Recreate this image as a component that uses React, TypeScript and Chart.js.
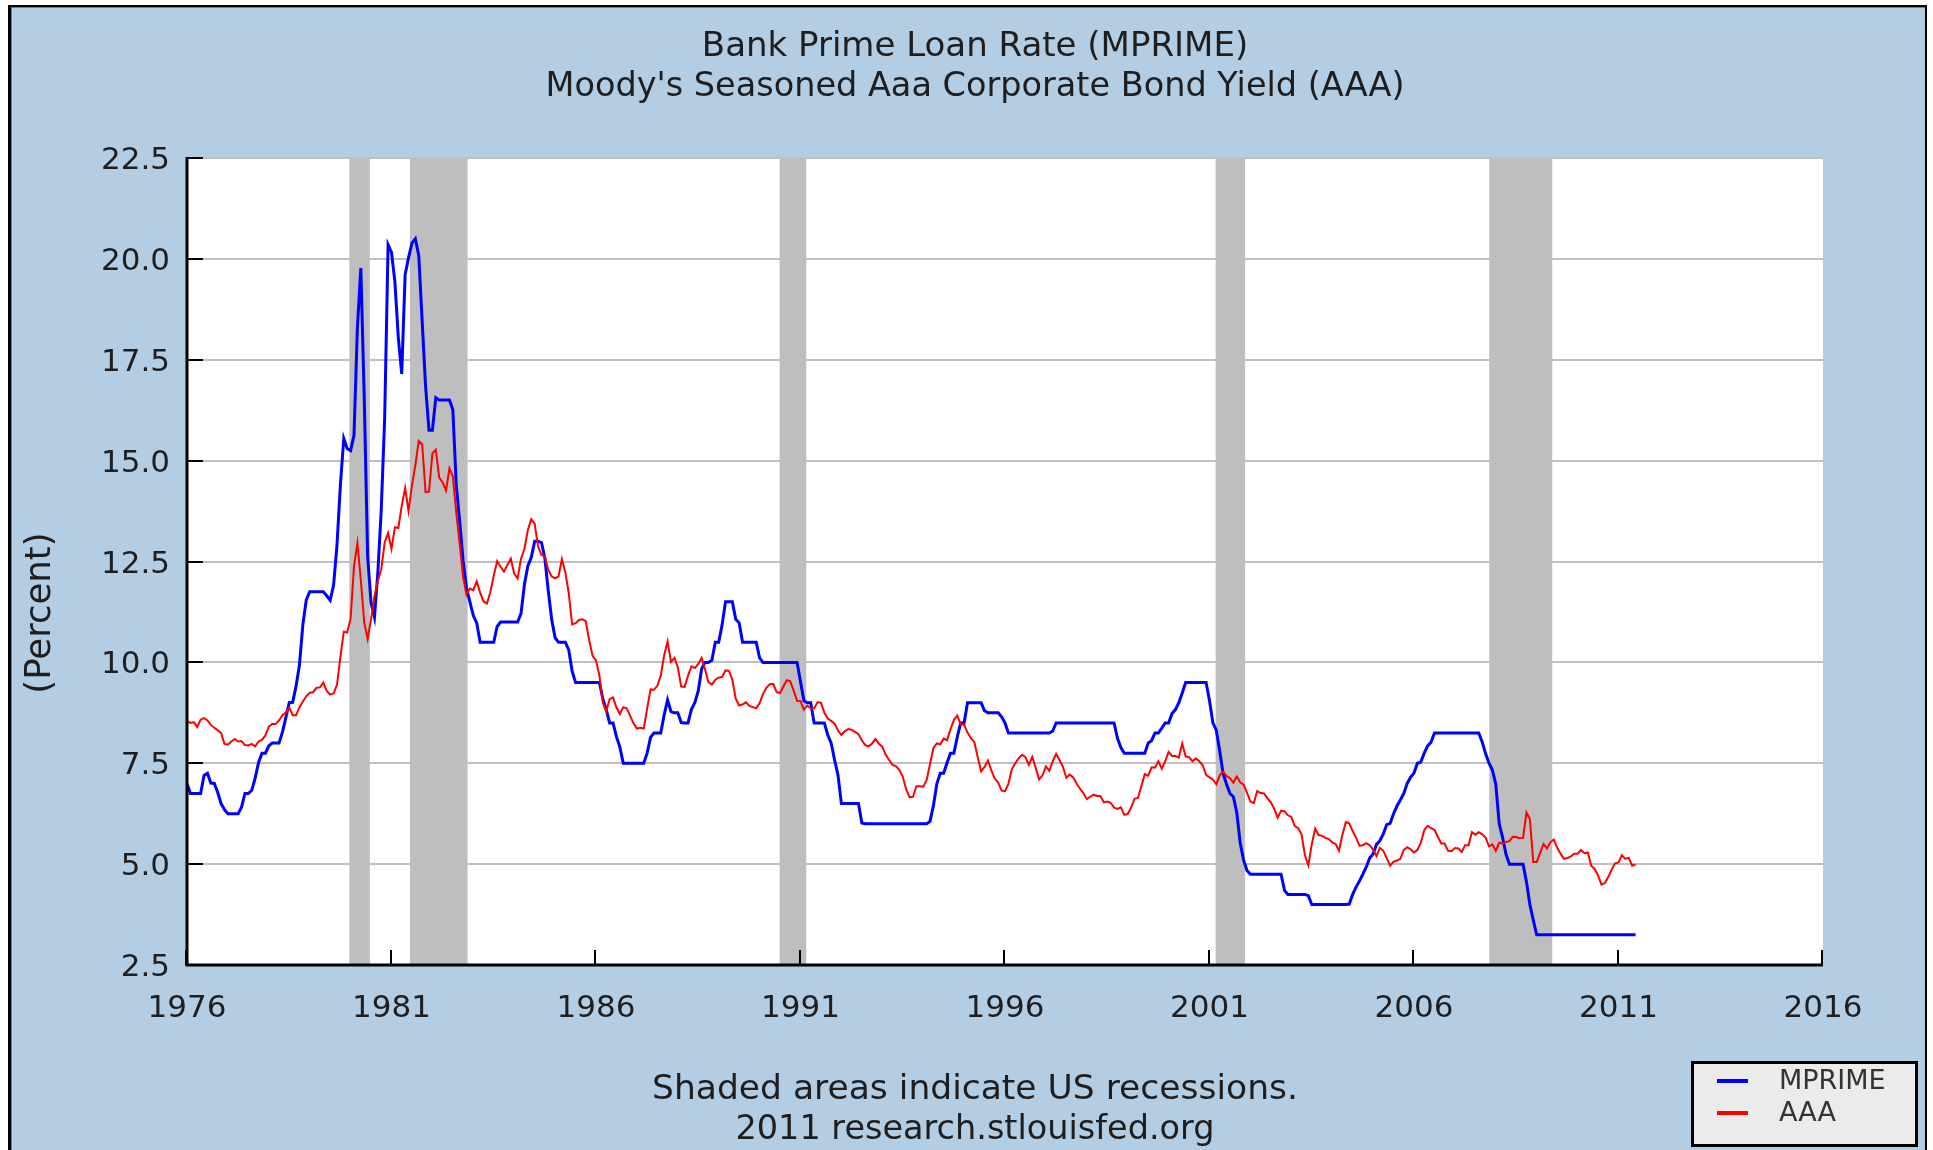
import React, { useEffect, useRef } from "react";
import { Chart, registerables } from "chart.js";

Chart.register(...registerables);

const TITLE_LINES = ["Bank Prime Loan Rate (MPRIME)", "Moody's Seasoned Aaa Corporate Bond Yield (AAA)"];
const FOOTER_LINES = ["Shaded areas indicate US recessions.", "2011 research.stlouisfed.org"];
const Y_LABEL = "(Percent)";
const SERIES_NAMES = ["MPRIME", "AAA"];
const SERIES_COLORS = ["#0000ff", "#ff0000"];
const START_YEAR = 1976;
const X_MIN = 1976;
const X_MAX = 2016;
const X_STEP = 5;
const Y_MIN = 2.5;
const Y_MAX = 22.5;
const Y_STEP = 2.5;

// recession periods (decimal years)
const RECESSIONS: [number, number][] = [
  [1979.97, 1980.47],
  [1981.45, 1982.86],
  [1990.49, 1991.14],
  [2001.15, 2001.87],
  [2007.84, 2009.38],
];

// Monthly Bank Prime Loan Rate, Jan 1976 - Jun 2011
const MPRIME: number[] = [
  7.00, 6.75, 6.75, 6.75, 6.75, 7.20, 7.25, 7.01, 7.00, 6.78, 6.50, 6.35,
  6.25, 6.25, 6.25, 6.25, 6.41, 6.75, 6.75, 6.83, 7.13, 7.52, 7.75, 7.75,
  7.93, 8.00, 8.00, 8.00, 8.27, 8.63, 9.00, 9.01, 9.41, 9.94, 10.94, 11.55,
  11.75, 11.75, 11.75, 11.75, 11.75, 11.65, 11.54, 11.91, 12.90, 14.39, 15.55, 15.30,
  15.25, 15.63, 18.31, 19.77, 16.57, 12.63, 11.48, 11.12, 12.23, 13.79, 16.06, 20.35,
  20.16, 19.43, 18.05, 17.15, 19.61, 20.03, 20.39, 20.50, 20.08, 18.45, 16.84, 15.75,
  15.75, 16.56, 16.50, 16.50, 16.50, 16.50, 16.26, 14.39, 13.50, 12.52, 11.85, 11.50,
  11.16, 10.98, 10.50, 10.50, 10.50, 10.50, 10.50, 10.89, 11.00, 11.00, 11.00, 11.00,
  11.00, 11.00, 11.21, 11.93, 12.39, 12.60, 13.00, 13.00, 12.97, 12.58, 11.77, 11.06,
  10.61, 10.50, 10.50, 10.50, 10.31, 9.78, 9.50, 9.50, 9.50, 9.50, 9.50, 9.50,
  9.50, 9.50, 9.10, 8.83, 8.50, 8.50, 8.16, 7.90, 7.50, 7.50, 7.50, 7.50,
  7.50, 7.50, 7.50, 7.75, 8.14, 8.25, 8.25, 8.25, 8.70, 9.07, 8.78, 8.75,
  8.75, 8.51, 8.50, 8.50, 8.84, 9.00, 9.29, 9.84, 10.00, 10.00, 10.05, 10.50,
  10.50, 10.93, 11.50, 11.50, 11.50, 11.07, 10.98, 10.50, 10.50, 10.50, 10.50, 10.50,
  10.11, 10.00, 10.00, 10.00, 10.00, 10.00, 10.00, 10.00, 10.00, 10.00, 10.00, 10.00,
  9.52, 9.05, 9.00, 9.00, 8.50, 8.50, 8.50, 8.50, 8.20, 8.00, 7.58, 7.21,
  6.50, 6.50, 6.50, 6.50, 6.50, 6.50, 6.02, 6.00, 6.00, 6.00, 6.00, 6.00,
  6.00, 6.00, 6.00, 6.00, 6.00, 6.00, 6.00, 6.00, 6.00, 6.00, 6.00, 6.00,
  6.00, 6.00, 6.06, 6.45, 6.99, 7.25, 7.25, 7.51, 7.75, 7.75, 8.15, 8.50,
  8.50, 9.00, 9.00, 9.00, 9.00, 9.00, 8.80, 8.75, 8.75, 8.75, 8.75, 8.65,
  8.50, 8.25, 8.25, 8.25, 8.25, 8.25, 8.25, 8.25, 8.25, 8.25, 8.25, 8.25,
  8.25, 8.25, 8.30, 8.50, 8.50, 8.50, 8.50, 8.50, 8.50, 8.50, 8.50, 8.50,
  8.50, 8.50, 8.50, 8.50, 8.50, 8.50, 8.50, 8.50, 8.50, 8.12, 7.89, 7.75,
  7.75, 7.75, 7.75, 7.75, 7.75, 7.75, 8.00, 8.06, 8.25, 8.25, 8.37, 8.50,
  8.50, 8.73, 8.83, 9.00, 9.24, 9.50, 9.50, 9.50, 9.50, 9.50, 9.50, 9.50,
  9.05, 8.50, 8.32, 7.80, 7.24, 6.98, 6.75, 6.67, 6.28, 5.53, 5.10, 4.84,
  4.75, 4.75, 4.75, 4.75, 4.75, 4.75, 4.75, 4.75, 4.75, 4.75, 4.35, 4.25,
  4.25, 4.25, 4.25, 4.25, 4.25, 4.22, 4.00, 4.00, 4.00, 4.00, 4.00, 4.00,
  4.00, 4.00, 4.00, 4.00, 4.00, 4.01, 4.25, 4.43, 4.58, 4.75, 4.93, 5.15,
  5.25, 5.49, 5.58, 5.75, 5.98, 6.01, 6.25, 6.44, 6.59, 6.75, 7.00, 7.15,
  7.26, 7.50, 7.53, 7.75, 7.93, 8.02, 8.25, 8.25, 8.25, 8.25, 8.25, 8.25,
  8.25, 8.25, 8.25, 8.25, 8.25, 8.25, 8.25, 8.25, 8.03, 7.74, 7.50, 7.33,
  6.98, 6.00, 5.66, 5.24, 5.00, 5.00, 5.00, 5.00, 5.00, 4.56, 4.00, 3.61,
  3.25, 3.25, 3.25, 3.25, 3.25, 3.25, 3.25, 3.25, 3.25, 3.25, 3.25, 3.25,
  3.25, 3.25, 3.25, 3.25, 3.25, 3.25, 3.25, 3.25, 3.25, 3.25, 3.25, 3.25,
  3.25, 3.25, 3.25, 3.25, 3.25, 3.25,
];

// Monthly Moody's Aaa corporate bond yield, Jan 1976 - Jun 2011
const AAA: number[] = [
  8.55, 8.50, 8.52, 8.40, 8.58, 8.62, 8.56, 8.45, 8.38, 8.32, 8.25, 7.98,
  7.96, 8.04, 8.10, 8.04, 8.05, 7.95, 7.94, 7.98, 7.92, 8.04, 8.08, 8.19,
  8.41, 8.47, 8.47, 8.56, 8.69, 8.76, 8.88, 8.69, 8.69, 8.89, 9.03, 9.16,
  9.25, 9.26, 9.37, 9.38, 9.50, 9.29, 9.20, 9.23, 9.44, 10.13, 10.76, 10.74,
  11.09, 12.38, 12.96, 12.04, 10.99, 10.58, 11.07, 11.64, 12.02, 12.31, 12.97, 13.21,
  12.81, 13.35, 13.33, 13.88, 14.32, 13.75, 14.38, 14.89, 15.49, 15.40, 14.22, 14.23,
  15.18, 15.27, 14.58, 14.46, 14.26, 14.81, 14.61, 13.71, 12.94, 12.12, 11.68, 11.83,
  11.79, 12.01, 11.73, 11.51, 11.46, 11.74, 12.15, 12.51, 12.37, 12.25, 12.41, 12.57,
  12.20, 12.08, 12.57, 12.81, 13.28, 13.55, 13.44, 12.87, 12.66, 12.63, 12.29, 12.13,
  12.08, 12.13, 12.56, 12.23, 11.72, 10.94, 10.97, 11.05, 11.07, 11.02, 10.55, 10.16,
  10.05, 9.67, 9.00, 8.79, 9.09, 9.13, 8.88, 8.72, 8.89, 8.86, 8.68, 8.49,
  8.36, 8.38, 8.36, 8.85, 9.33, 9.32, 9.42, 9.67, 10.18, 10.52, 10.01, 10.11,
  9.88, 9.40, 9.39, 9.67, 9.90, 9.86, 9.96, 10.11, 9.82, 9.51, 9.45, 9.57,
  9.62, 9.64, 9.80, 9.79, 9.57, 9.10, 8.93, 8.96, 9.01, 8.92, 8.89, 8.86,
  8.99, 9.22, 9.37, 9.46, 9.47, 9.26, 9.24, 9.41, 9.56, 9.53, 9.30, 9.05,
  9.04, 8.83, 8.93, 8.86, 8.86, 9.01, 9.00, 8.75, 8.61, 8.55, 8.48, 8.31,
  8.20, 8.29, 8.35, 8.33, 8.28, 8.22, 8.07, 7.95, 7.92, 7.99, 8.10, 7.98,
  7.91, 7.71, 7.58, 7.46, 7.43, 7.33, 7.17, 6.85, 6.66, 6.67, 6.93, 6.93,
  6.92, 7.08, 7.48, 7.88, 7.99, 7.97, 8.11, 8.07, 8.34, 8.57, 8.68, 8.46,
  8.46, 8.26, 8.12, 8.03, 7.65, 7.30, 7.41, 7.57, 7.32, 7.12, 7.02, 6.82,
  6.81, 6.99, 7.35, 7.50, 7.62, 7.71, 7.65, 7.46, 7.66, 7.39, 7.10, 7.20,
  7.42, 7.31, 7.55, 7.73, 7.58, 7.41, 7.14, 7.22, 7.15, 7.00, 6.87, 6.76,
  6.61, 6.67, 6.72, 6.69, 6.69, 6.53, 6.55, 6.52, 6.40, 6.37, 6.41, 6.22,
  6.24, 6.40, 6.62, 6.64, 6.93, 7.23, 7.19, 7.40, 7.39, 7.55, 7.36, 7.55,
  7.78, 7.68, 7.68, 7.64, 7.99, 7.67, 7.65, 7.55, 7.62, 7.55, 7.45, 7.21,
  7.15, 7.10, 6.98, 7.20, 7.29, 7.18, 7.13, 7.02, 7.17, 7.03, 6.97, 6.77,
  6.55, 6.51, 6.81, 6.76, 6.75, 6.63, 6.53, 6.37, 6.15, 6.32, 6.31, 6.21,
  6.17, 5.95, 5.89, 5.74, 5.22, 4.97, 5.49, 5.88, 5.72, 5.70, 5.65, 5.62,
  5.54, 5.50, 5.33, 5.73, 6.04, 6.01, 5.82, 5.65, 5.46, 5.47, 5.52, 5.47,
  5.36, 5.20, 5.40, 5.33, 5.15, 4.96, 5.06, 5.09, 5.13, 5.35, 5.42, 5.37,
  5.29, 5.35, 5.53, 5.84, 5.95, 5.89, 5.85, 5.68, 5.51, 5.51, 5.33, 5.32,
  5.40, 5.39, 5.30, 5.47, 5.47, 5.79, 5.73, 5.79, 5.74, 5.66, 5.44, 5.49,
  5.33, 5.53, 5.51, 5.55, 5.57, 5.68, 5.67, 5.64, 5.65, 6.28, 6.12, 5.05,
  5.05, 5.27, 5.50, 5.39, 5.54, 5.61, 5.41, 5.26, 5.13, 5.15, 5.19, 5.26,
  5.26, 5.35, 5.27, 5.29, 4.96, 4.88, 4.72, 4.49, 4.53, 4.68, 4.87, 5.02,
  5.04, 5.22, 5.13, 5.16, 4.96, 4.99,
];

const FONT = "'DejaVu Sans', Verdana, sans-serif";
const BG = "#b3cde3";
const TEXT = "#1e1e1e";

const monthX = (i: number) => START_YEAR + i / 12;

const decorPlugin = {
  id: "fredDecor",
  beforeDraw(chart: any) {
    const { ctx, width, height, chartArea } = chart;
    ctx.save();
    ctx.fillStyle = "#ffffff";
    ctx.fillRect(0, 0, width, height);
    ctx.fillStyle = BG;
    ctx.fillRect(8, 5, 1919, height - 5);
    ctx.fillStyle = "#000000";
    ctx.fillRect(8, 5, 3, height - 5);
    ctx.fillRect(8, 5, 1919, 2);
    ctx.fillRect(1925, 5, 2, height - 5);
    ctx.fillStyle = "#6c7f92";
    ctx.fillRect(11, 7, 1, height - 7);
    ctx.fillRect(11, 7, 1914, 1);
    ctx.fillStyle = "#ffffff";
    ctx.fillRect(chartArea.left, chartArea.top, chartArea.right - chartArea.left, chartArea.bottom - chartArea.top);
    ctx.restore();
  },
  beforeDatasetsDraw(chart: any) {
    const { ctx, chartArea, scales } = chart;
    const xs = scales.x;
    ctx.save();
    ctx.fillStyle = "#bebebe";
    for (const [a, b] of RECESSIONS) {
      const x1 = xs.getPixelForValue(a);
      const x2 = xs.getPixelForValue(b);
      ctx.fillRect(x1, chartArea.top, x2 - x1, chartArea.bottom - chartArea.top);
    }
    ctx.restore();
  },
  afterDraw(chart: any) {
    const { ctx, chartArea, scales } = chart;
    const xs = scales.x;
    const ys = scales.y;
    ctx.save();
    // axes
    ctx.strokeStyle = "#000";
    ctx.lineWidth = 3;
    ctx.beginPath();
    ctx.moveTo(chartArea.left, chartArea.top - 1);
    ctx.lineTo(chartArea.left, chartArea.bottom);
    ctx.lineTo(chartArea.right, chartArea.bottom);
    ctx.stroke();
    // inside ticks
    ctx.lineWidth = 2;
    ctx.beginPath();
    for (let v = Y_MIN; v <= Y_MAX + 1e-9; v += Y_STEP) {
      const y = Math.round(ys.getPixelForValue(v));
      ctx.moveTo(chartArea.left, y);
      ctx.lineTo(chartArea.left + 16, y);
    }
    for (let v = X_MIN; v <= X_MAX; v += X_STEP) {
      const x = Math.round(xs.getPixelForValue(v)) - 1;
      ctx.moveTo(x, chartArea.bottom);
      ctx.lineTo(x, chartArea.bottom - 15);
    }
    ctx.stroke();

    // titles
    ctx.fillStyle = TEXT;
    ctx.textAlign = "center";
    ctx.textBaseline = "middle";
    ctx.font = `34px ${FONT}`;
    ctx.fillText(TITLE_LINES[0], 975, 47);
    ctx.font = `33.5px ${FONT}`;
    ctx.fillText(TITLE_LINES[1], 975, 87);
    ctx.font = `34.5px ${FONT}`;
    ctx.fillText(FOOTER_LINES[0], 975, 1090);
    ctx.font = `33.5px ${FONT}`;
    ctx.fillText(FOOTER_LINES[1], 975, 1130);

    // y label
    ctx.save();
    ctx.translate(41, 613);
    ctx.rotate(-Math.PI / 2);
    ctx.font = `35.5px ${FONT}`;
    ctx.fillText(Y_LABEL, 0, 0);
    ctx.restore();

    // legend
    const lx = 1691, ly = 1061, lw = 227, lh = 86;
    ctx.fillStyle = "#ebebeb";
    ctx.fillRect(lx, ly, lw, lh);
    ctx.strokeStyle = "#000";
    ctx.lineWidth = 3;
    ctx.strokeRect(lx + 1.5, ly + 1.5, lw - 3, lh - 3);
    const dsets = chart.data.datasets;
    ctx.textAlign = "left";
    ctx.font = `27px ${FONT}`;
    for (let i = 0; i < dsets.length; i++) {
      const yy = 1081 + i * 32;
      ctx.strokeStyle = dsets[i].borderColor;
      ctx.lineWidth = 4;
      ctx.beginPath();
      ctx.moveTo(1717, yy);
      ctx.lineTo(1748, yy);
      ctx.stroke();
      ctx.fillStyle = "#333";
      ctx.fillText(dsets[i].label, 1779, yy + 1);
    }
    ctx.restore();
  },
};

export default function App() {
  const ref = useRef<HTMLCanvasElement | null>(null);
  useEffect(() => {
    const canvas = ref.current;
    if (!canvas) return;
    const mp = MPRIME.map((v, i) => ({ x: monthX(i), y: v }));
    const aaa = AAA.map((v, i) => ({ x: monthX(i), y: v }));
    const chart = new Chart(canvas, {
      type: "line",
      data: {
        datasets: [
          {
            label: SERIES_NAMES[0],
            data: mp,
            borderColor: SERIES_COLORS[0],
            backgroundColor: SERIES_COLORS[0],
            borderWidth: 3,
            pointRadius: 0,
            tension: 0,
            order: 1,
          },
          {
            label: SERIES_NAMES[1],
            data: aaa,
            borderColor: SERIES_COLORS[1],
            backgroundColor: SERIES_COLORS[1],
            borderWidth: 2,
            pointRadius: 0,
            tension: 0,
            order: 0,
          },
        ],
      },
      options: {
        responsive: false,
        animation: false,
        devicePixelRatio: 1,
        layout: { padding: { left: 0, right: 110, top: 158, bottom: 115 } },
        plugins: { legend: { display: false }, title: { display: false }, tooltip: { enabled: false } },
        scales: {
          x: {
            type: "linear",
            min: X_MIN,
            max: X_MAX,
            afterFit: (s: any) => { s.height = 70; },
            afterBuildTicks: (s: any) => {
              const t = [];
              for (let v = X_MIN; v <= X_MAX; v += X_STEP) t.push({ value: v });
              s.ticks = t;
            },
            grid: { display: false, drawTicks: false },
            border: { display: false },
            ticks: {
              autoSkip: false,
              maxRotation: 0,
              padding: 25,
              color: TEXT,
              font: { family: FONT, size: 31 },
              callback: (v: any) => String(v),
            },
          },
          y: {
            type: "linear",
            min: Y_MIN,
            max: Y_MAX,
            afterFit: (s: any) => { s.width = 187; },
            grid: { color: "#c0c0c0", lineWidth: 2, drawTicks: false },
            border: { display: false },
            ticks: {
              stepSize: Y_STEP,
              padding: 17,
              labelOffset: 3,
              color: TEXT,
              font: { family: FONT, size: 31 },
              callback: (v: any) => Number(v).toFixed(1),
            },
          },
        },
      },
      plugins: [decorPlugin],
    });
    return () => chart.destroy();
  }, []);
  return (
    <canvas
      ref={ref}
      width={1933}
      height={1150}
      style={{ position: "absolute", left: 0, top: 0, width: 1933, height: 1150, display: "block" }}
    />
  );
}
